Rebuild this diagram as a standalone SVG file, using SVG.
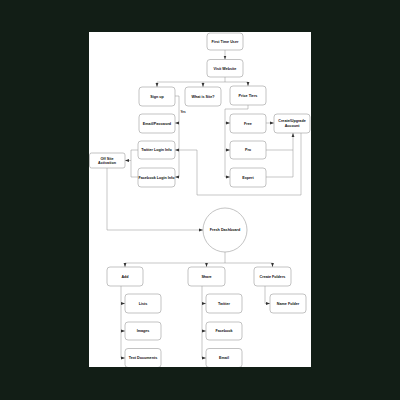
<svg xmlns="http://www.w3.org/2000/svg" width="400" height="400" viewBox="0 0 400 400">
  <defs>
    <style>
      .box { fill: #ffffff; stroke: #9a9a9a; stroke-width: 0.6; }
      .lbl { font-family: "Liberation Sans", Arial, sans-serif; font-weight: bold; font-size: 3.7px; fill: #111; text-anchor: middle; dominant-baseline: central; }
      .wire { fill: none; stroke: #8c8c8c; stroke-width: 0.5; }
      .arrow { fill: none; stroke: #8c8c8c; stroke-width: 0.5; marker-end: url(#tip); }
    </style>
    <marker id="tip" viewBox="0 0 4 4" refX="4" refY="2" markerWidth="4" markerHeight="4" markerUnits="userSpaceOnUse" orient="auto">
      <path d="M0,0.6 L4,2 L0,3.4 Z" fill="#333"/>
    </marker>
    <clipPath id="page"><rect x="89" y="32" width="222" height="335"/></clipPath>
  </defs>

  <rect width="400" height="400" fill="#121e16"/>
  <rect x="89" y="32" width="222" height="335" fill="#ffffff"/>

  <g clip-path="url(#page)">
    <g id="connectors">
      <path class="arrow" d="M225,50 V59.5"/>
      <path class="wire" d="M225,77 V82 M157,82 H248"/>
      <path class="arrow" d="M157,82 V87"/>
      <path class="arrow" d="M203,82 V87"/>
      <path class="arrow" d="M248,82 V86"/>
      <!-- sign up branch -->
      <path class="wire" d="M175,96 H179 V177"/>
      <path class="arrow" d="M179,123 H175"/>
      <path class="arrow" d="M179,150 H175"/>
      <path class="arrow" d="M179,177 H175"/>
      <text x="180.5" y="113" style="font-family:'Liberation Sans',Arial,sans-serif;font-weight:bold;font-size:3px;fill:#111">Yes</text>
      <!-- social logins to off site -->
      <path class="wire" d="M138,150 H131 V177 H138"/>
      <path class="arrow" d="M131,160.5 H125"/>
      <path class="arrow" d="M107,168 V230 H203"/>
      <!-- price tiers -->
      <path class="wire" d="M248,105 V109 H225 V177"/>
      <path class="arrow" d="M225,123 H230"/>
      <path class="arrow" d="M225,150 H230"/>
      <path class="arrow" d="M225,177 H230"/>
      <path class="arrow" d="M266,123 H274"/>
      <path class="wire" d="M266,150 H293"/>
      <path class="arrow" d="M266,177 H293 V133"/>
      <path class="wire" d="M179,150 H197 V195 H301 V133"/>
      <!-- dashboard -->
      <path class="wire" d="M225,252 V263 M125,263 H272.5"/>
      <path class="arrow" d="M125,263 V267"/>
      <path class="arrow" d="M206.5,263 V267"/>
      <path class="arrow" d="M272.5,263 V267"/>
      <path class="wire" d="M121,286 V358"/>
      <path class="arrow" d="M121,303.5 H125"/>
      <path class="arrow" d="M121,331 H125"/>
      <path class="arrow" d="M121,358 H125"/>
      <path class="wire" d="M202,286 V358"/>
      <path class="arrow" d="M202,303.5 H206"/>
      <path class="arrow" d="M202,331 H206"/>
      <path class="arrow" d="M202,358 H206"/>
      <path class="arrow" d="M265,286 V303.5 H270"/>
    </g>

    <g id="first-time-user"><rect class="box" x="207" y="33" width="36" height="17" rx="3"/><text class="lbl" x="225" y="41.5">First Time User</text></g>
    <g id="visit-website"><rect class="box" x="207" y="59.5" width="36" height="17.5" rx="3"/><text class="lbl" x="225" y="68.5">Visit Website</text></g>
    <g id="sign-up"><rect class="box" x="139" y="87" width="36" height="19" rx="3"/><text class="lbl" x="157" y="96.5">Sign up</text></g>
    <g id="what-is"><rect class="box" x="185" y="87" width="36" height="19" rx="3"/><text class="lbl" x="203" y="96.5">What is Site?</text></g>
    <g id="price-tiers"><rect class="box" x="230" y="86" width="36" height="19" rx="3"/><text class="lbl" x="248" y="95.5">Price Tiers</text></g>
    <g id="email-password"><rect class="box" x="139" y="114" width="36" height="19" rx="3"/><text class="lbl" x="157" y="123.5">Email/Password</text></g>
    <g id="twitter-login"><rect class="box" x="138" y="141" width="37" height="18" rx="3"/><text class="lbl" x="156.5" y="150">Twitter Login Info</text></g>
    <g id="facebook-login"><rect class="box" x="138" y="168" width="37" height="19" rx="3"/><text class="lbl" x="156.5" y="177.5">Facebook Login Info</text></g>
    <g id="off-site"><rect class="box" x="89.5" y="153" width="35.5" height="15" rx="2"/><text class="lbl" x="107" y="158.5">Off Site</text><text class="lbl" x="107" y="163">Activation</text></g>
    <g id="free"><rect class="box" x="230" y="114" width="36" height="19" rx="3"/><text class="lbl" x="248" y="123.5">Free</text></g>
    <g id="pro"><rect class="box" x="230" y="141" width="36" height="18" rx="3"/><text class="lbl" x="248" y="150">Pro</text></g>
    <g id="expert"><rect class="box" x="230" y="168" width="36" height="19" rx="3"/><text class="lbl" x="248" y="177.5">Expert</text></g>
    <g id="create-upgrade"><rect class="box" x="274" y="114" width="36" height="19" rx="3"/><text class="lbl" x="292" y="120.5">Create/Upgrade</text><text class="lbl" x="292" y="125.5">Account</text></g>
    <g id="fresh-dashboard"><circle class="box" cx="225" cy="230" r="22"/><text class="lbl" x="225" y="230">Fresh Dashboard</text></g>
    <g id="add"><rect class="box" x="107" y="267" width="36" height="19" rx="3"/><text class="lbl" x="125" y="276.5">Add</text></g>
    <g id="share"><rect class="box" x="188" y="267" width="37" height="19" rx="3"/><text class="lbl" x="206.5" y="276.5">Share</text></g>
    <g id="create-folders"><rect class="box" x="254" y="267" width="37" height="19" rx="3"/><text class="lbl" x="272.5" y="276.5">Create Folders</text></g>
    <g id="lists"><rect class="box" x="125" y="294" width="36" height="19" rx="3"/><text class="lbl" x="143" y="303.5">Lists</text></g>
    <g id="images"><rect class="box" x="125" y="322" width="36" height="18" rx="3"/><text class="lbl" x="143" y="331">Images</text></g>
    <g id="text-documents"><rect class="box" x="125" y="348.5" width="36" height="19" rx="3"/><text class="lbl" x="143" y="358">Text Documents</text></g>
    <g id="twitter"><rect class="box" x="206" y="294" width="36" height="19" rx="3"/><text class="lbl" x="224" y="303.5">Twitter</text></g>
    <g id="facebook"><rect class="box" x="206" y="322" width="36" height="18" rx="3"/><text class="lbl" x="224" y="331">Facebook</text></g>
    <g id="email"><rect class="box" x="206" y="348.5" width="36" height="19" rx="3"/><text class="lbl" x="224" y="358">Email</text></g>
    <g id="name-folder"><rect class="box" x="270" y="294" width="36" height="19" rx="3"/><text class="lbl" x="288" y="303.5">Name Folder</text></g>
  </g>
</svg>
